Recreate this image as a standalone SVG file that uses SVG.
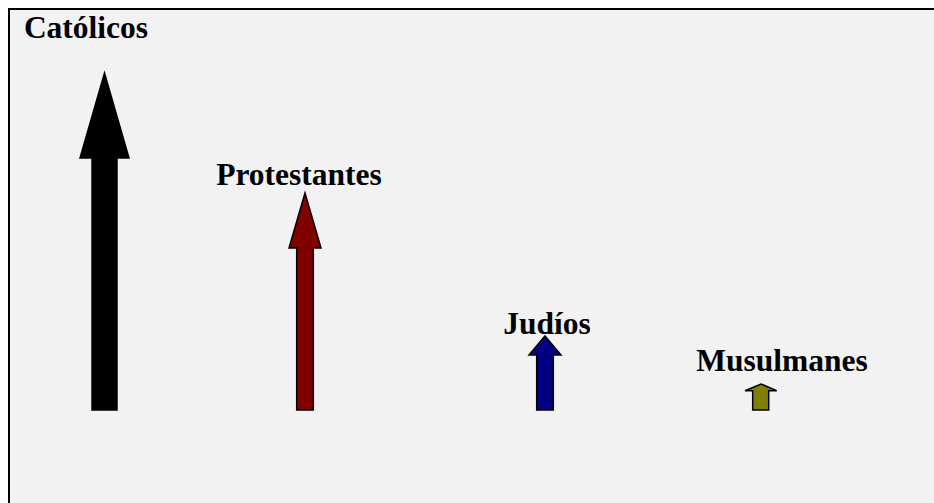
<svg xmlns="http://www.w3.org/2000/svg" width="934" height="503" viewBox="0 0 934 503">
<style>
.lbl{font-family:"Liberation Serif","Times New Roman",serif;font-weight:bold;font-size:31.5px;fill:#000;text-anchor:middle}
.arr{stroke:#000;stroke-width:1.5;stroke-linejoin:miter}
</style>
<rect x="0" y="0" width="934" height="503" fill="#ffffff"/>
<rect x="9" y="9" width="940" height="510" fill="#f2f2f2" stroke="#000" stroke-width="2"/>
<g id="connectors"></g>
<g id="catolicos">
<path class="arr" fill="#000000" d="M104.5,73 L129,158 L117,158 L117,410 L92,410 L92,158 L80,158 Z"/>
<text class="lbl" x="86" y="38">Católicos</text>
</g>
<g id="protestantes">
<path class="arr" fill="#800000" d="M305,193 L321,248 L313.3,248 L313.3,410 L296.7,410 L296.7,248 L289,248 Z"/>
<text class="lbl" x="299" y="185">Protestantes</text>
</g>
<g id="judios">
<path class="arr" fill="#000080" d="M545,336 L561,355 L553.3,355 L553.3,410 L536.7,410 L536.7,355 L529,355 Z"/>
<text class="lbl" x="547" y="334">Judíos</text>
</g>
<g id="musulmanes">
<path class="arr" fill="#808000" d="M761,384 L776.7,390.7 L768.7,390.7 L768.7,410 L752.7,410 L752.7,390.7 L745,390.7 Z"/>
<text class="lbl" x="782" y="370.7">Musulmanes</text>
</g>
</svg>
